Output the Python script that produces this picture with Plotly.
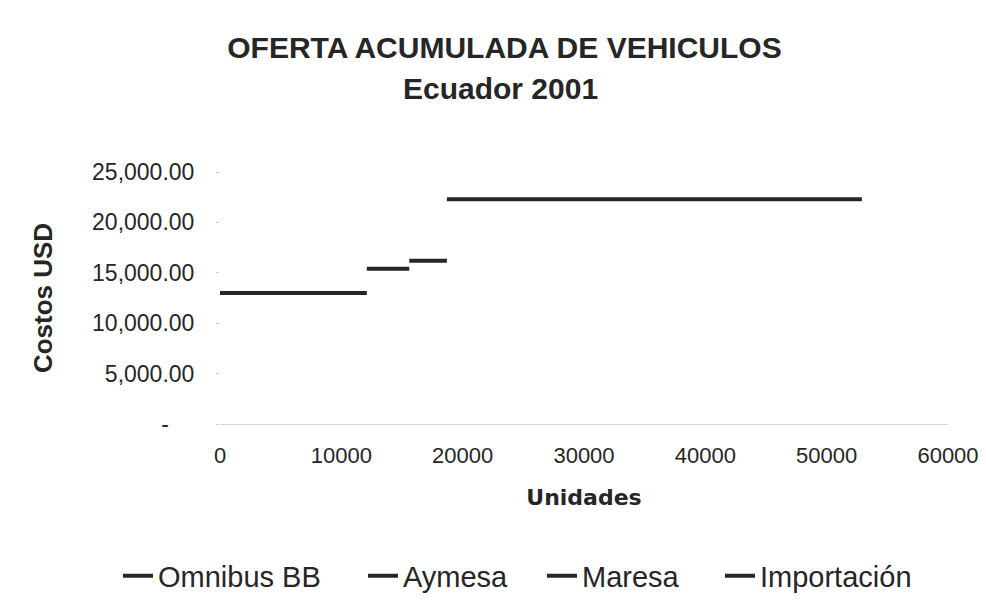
import plotly.graph_objects as go

names = ["Omnibus BB", "Aymesa", "Maresa", "Importación"]
x_start = [0, 12100, 15600, 18700]
x_end = [12100, 15600, 18700, 52900]
costs = [13000, 15400, 16200, 22300]

y_tickvals = [0, 5000, 10000, 15000, 20000, 25000]
y_ticktext = ["-" + "\u00a0" * 4, "5,000.00", "10,000.00", "15,000.00", "20,000.00", "25,000.00"]
x_tickvals = [0, 10000, 20000, 30000, 40000, 50000, 60000]

FONT = "Liberation Sans, Arial, sans-serif"
INK = "#262626"
legend_ids = ["legend", "legend2", "legend3", "legend4"]
legend_x = [-0.1401, 0.1964, 0.4423, 0.6868]

fig = go.Figure()
for n, a, b, c, lg in zip(names, x_start, x_end, costs, legend_ids):
    fig.add_trace(go.Scatter(x=[a, b], y=[c, c], mode="lines", name=n, legend=lg,
                             line=dict(color=INK, width=4)))

legend_layout = {}
for lg, lx in zip(legend_ids, legend_x):
    legend_layout[lg] = dict(orientation="h", x=lx, xanchor="left",
                             y=(416 - 568) / 252, yanchor="middle",
                             bgcolor="rgba(0,0,0,0)", borderwidth=0,
                             font=dict(size=29, color=INK))

fig.update_layout(
    width=986, height=600,
    paper_bgcolor="white", plot_bgcolor="white",
    margin=dict(l=212, r=46, t=164, b=184, autoexpand=False),
    font=dict(family=FONT, color=INK),
    title=dict(text="<b>OFERTA ACUMULADA DE VEHICULOS</b>",
               x=0.5035, xanchor="center", y=1 - 39 / 600, yanchor="middle",
               font=dict(size=30, color=INK)),
    annotations=[dict(text="<b>Ecuador 2001</b>", xref="paper", yref="paper",
                      x=(492 - 212) / 728, y=(416 - 80) / 252, xanchor="center",
                      yanchor="middle", showarrow=False,
                      font=dict(size=30, color=INK))],
    showlegend=True,
    **legend_layout,
)
fig.update_xaxes(range=[0, 60000], tickvals=x_tickvals, tickformat="d",
                 showgrid=False, zeroline=False,
                 showline=True, linecolor="#d8d8d8", linewidth=1,
                 tickfont=dict(size=22), ticks="", ticklabelstandoff=12,
                 title=dict(text="<b>Unidades</b>",
                            font=dict(size=22, family="DejaVu Sans"), standoff=22))
fig.update_yaxes(range=[0, 25000], tickvals=y_tickvals, ticktext=y_ticktext,
                 showgrid=False, zeroline=False, showline=False,
                 ticks="outside", ticklen=3, tickcolor="#cccccc",
                 tickfont=dict(size=23), ticklabelstandoff=17,
                 title=dict(text="<b>Costos USD</b>", font=dict(size=26), standoff=31))
fig.write_html("out.html")
